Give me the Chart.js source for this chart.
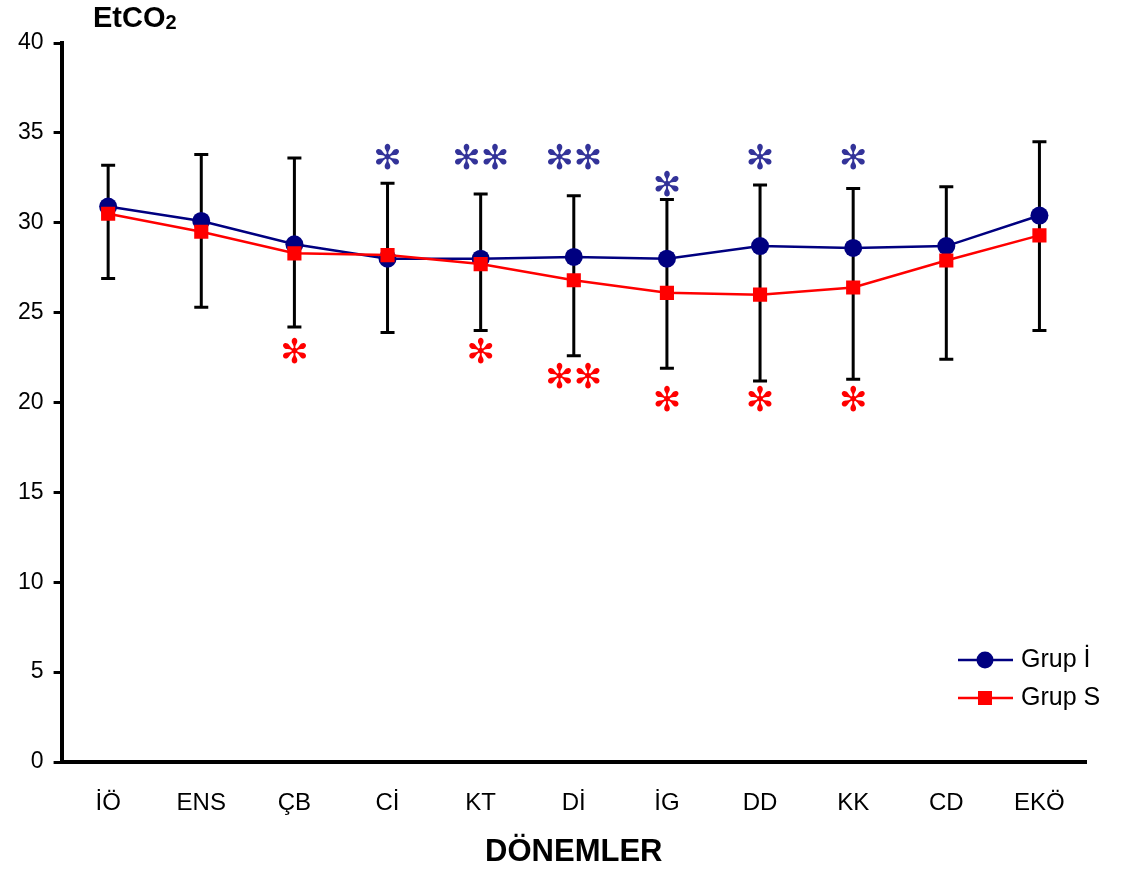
<!DOCTYPE html>
<html>
<head>
<meta charset="utf-8">
<script src="https://cdn.jsdelivr.net/npm/chart.js@4/dist/chart.umd.min.js"></script>
<style>
  html, body { margin: 0; padding: 0; background: #fff; }
  #wrap { width: 1124px; height: 871px; position: relative; }
</style>
</head>
<body>
<div id="wrap"><canvas id="chart"></canvas></div>
<script>
const periods = ["İÖ", "ENS", "ÇB", "Cİ", "KT", "Dİ", "İG", "DD", "KK", "CD", "EKÖ"];
const grupI = [30.9, 30.1, 28.8, 28.0, 28.0, 28.1, 28.0, 28.7, 28.6, 28.7, 30.4];
const grupS = [30.5, 29.5, 28.3, 28.2, 27.7, 26.8, 26.1, 26.0, 26.4, 27.9, 29.3];
const errTop = [33.2, 33.8, 33.6, 32.2, 31.6, 31.5, 31.3, 32.1, 31.9, 32.0, 34.5];
const errBottom = [26.9, 25.3, 24.2, 23.9, 24.0, 22.6, 21.9, 21.2, 21.3, 22.4, 24.0];
const blueStars = ["", "", "", "✻", "✻✻", "✻✻", "✻", "✻", "✻", "", ""];
const blueStarY = [null, null, null, 33.5, 33.5, 33.5, 32.0, 33.5, 33.5, null, null];
const redStars = ["", "", "✻", "", "✻", "✻✻", "✻", "✻", "✻", "", ""];
const redStarY = [null, null, 22.7, null, 22.7, 21.3, 20.0, 20.0, 20.0, null, null];

const FONT = "'Liberation Sans', Arial, sans-serif";
const BLUE = "#000080";
const RED = "#ff0000";

const extras = {
  id: "extras",
  beforeDatasetsDraw(chart) {
    const { ctx } = chart;
    const x = chart.scales.x, y = chart.scales.y;
    ctx.save();
    ctx.strokeStyle = "#000";
    ctx.lineWidth = 3;
    periods.forEach((p, i) => {
      const px = x.getPixelForValue(i);
      const t = y.getPixelForValue(errTop[i]);
      const b = y.getPixelForValue(errBottom[i]);
      ctx.beginPath();
      ctx.moveTo(px, t); ctx.lineTo(px, b);
      ctx.moveTo(px - 7, t); ctx.lineTo(px + 7, t);
      ctx.moveTo(px - 7, b); ctx.lineTo(px + 7, b);
      ctx.stroke();
    });
    ctx.restore();
  },
  afterDraw(chart) {
    const { ctx } = chart;
    const x = chart.scales.x, y = chart.scales.y;
    ctx.save();
    ctx.textAlign = "center";
    ctx.textBaseline = "middle";
    ctx.font = "34px 'DejaVu Sans', sans-serif";
    periods.forEach((p, i) => {
      const px = x.getPixelForValue(i);
      if (blueStars[i]) {
        ctx.fillStyle = "#333399";
        ctx.fillText(blueStars[i], px, y.getPixelForValue(blueStarY[i]));
      }
      if (redStars[i]) {
        ctx.fillStyle = RED;
        ctx.fillText(redStars[i], px, y.getPixelForValue(redStarY[i]));
      }
    });

    // y title
    ctx.fillStyle = "#000";
    ctx.textAlign = "left";
    ctx.font = "bold 29px " + FONT;
    ctx.fillText("EtCO", 93, 19);
    const w = ctx.measureText("EtCO").width;
    ctx.font = "bold 20px " + FONT;
    ctx.fillText("2", 93 + w, 23);

    // legend
    const items = [
      { label: "Grup İ", color: BLUE, shape: "circle", y: 660 },
      { label: "Grup S", color: RED, shape: "square", y: 698 }
    ];
    items.forEach(it => {
      ctx.strokeStyle = it.color;
      ctx.fillStyle = it.color;
      ctx.lineWidth = 2.5;
      ctx.beginPath();
      ctx.moveTo(958, it.y); ctx.lineTo(1013, it.y);
      ctx.stroke();
      if (it.shape === "circle") {
        ctx.beginPath();
        ctx.arc(985, it.y, 8.5, 0, Math.PI * 2);
        ctx.fill();
      } else {
        ctx.fillRect(978, it.y - 7, 14, 14);
      }
      ctx.fillStyle = "#000";
      ctx.font = "25px " + FONT;
      ctx.textAlign = "left";
      ctx.fillText(it.label, 1021, it.y);
    });
    ctx.restore();
  }
};

new Chart(document.getElementById("chart"), {
  type: "line",
  data: {
    labels: periods,
    datasets: [
      {
        label: "Grup İ",
        data: grupI,
        order: 1,
        borderColor: BLUE,
        backgroundColor: BLUE,
        borderWidth: 2.5,
        pointStyle: "circle",
        pointRadius: 9,
        pointHoverRadius: 9,
        pointBorderWidth: 0,
        tension: 0
      },
      {
        label: "Grup S",
        data: grupS,
        order: 0,
        borderColor: RED,
        backgroundColor: RED,
        borderWidth: 2.5,
        pointStyle: "rect",
        pointRadius: 10,
        pointHoverRadius: 10,
        pointBorderWidth: 0,
        tension: 0
      }
    ]
  },
  options: {
    responsive: true,
    maintainAspectRatio: false,
    animation: false,
    layout: { padding: { top: 43, right: 38, left: 8, bottom: 0 } },
    plugins: {
      legend: { display: false },
      tooltip: { enabled: false }
    },
    scales: {
      x: {
        offset: true,
        grid: { display: false },
        border: { display: true, color: "#000", width: 4 },
        ticks: { color: "#000", font: { size: 24, family: FONT }, padding: 19, maxRotation: 0 },
        title: {
          display: true,
          text: "DÖNEMLER",
          color: "#000",
          font: { size: 31, weight: "bold", family: FONT },
          padding: { top: -3, bottom: 0 }
        }
      },
      y: {
        min: 0,
        max: 40,
        ticks: { stepSize: 5, color: "#000", font: { size: 23, family: FONT }, padding: 10 },
        grid: { drawOnChartArea: false, drawTicks: true, tickLength: 8, color: "#000", lineWidth: 3 },
        border: { display: true, color: "#000", width: 4 }
      }
    }
  },
  plugins: [extras]
});
</script>
</body>
</html>
